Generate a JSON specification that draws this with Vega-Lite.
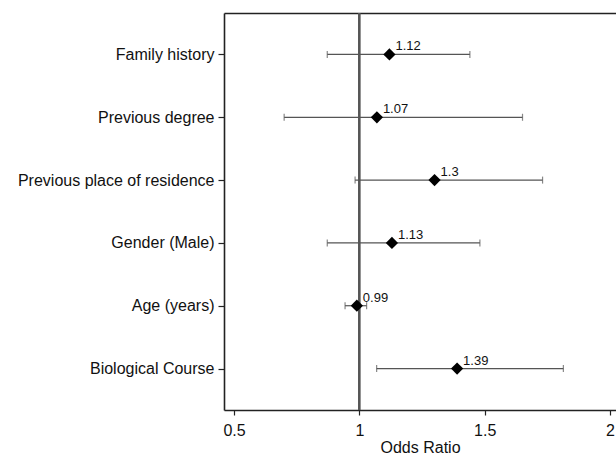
{
  "$schema": "https://vega.github.io/schema/vega-lite/v6.json",
  "width": 392,
  "height": 397,
  "autosize": {"type": "none"},
  "padding": {"left": 224, "top": 13, "right": 0, "bottom": 45},
  "background": "white",
  "data": {
    "values": [
      {"term": "Family history", "or": 1.12, "lo": 0.872, "hi": 1.441, "label": "1.12"},
      {"term": "Previous degree", "or": 1.07, "lo": 0.70, "hi": 1.651, "label": "1.07"},
      {"term": "Previous place of residence", "or": 1.30, "lo": 0.983, "hi": 1.731, "label": "1.3"},
      {"term": "Gender (Male)", "or": 1.13, "lo": 0.872, "hi": 1.481, "label": "1.13"},
      {"term": "Age (years)", "or": 0.99, "lo": 0.943, "hi": 1.029, "label": "0.99"},
      {"term": "Biological Course", "or": 1.39, "lo": 1.069, "hi": 1.814, "label": "1.39"}
    ]
  },
  "layer": [
    {
      "mark": {"type": "rule", "color": "#555555", "strokeWidth": 1.6},
      "encoding": {
        "x": {"datum": 1, "type": "quantitative", "axis": null}
      }
    },
    {
      "mark": {"type": "rule", "color": "#555555", "strokeWidth": 1.2},
      "encoding": {
        "y": {"field": "term", "type": "nominal", "sort": null, "scale": {"type": "point", "padding": 0.66}, "axis": {"title": null}},
        "x": {"field": "lo", "type": "quantitative", "scale": {"domain": [0.46, 2.024], "nice": false, "zero": false},
              "axis": {"values": [0.5, 1, 1.5, 2], "format": "~g", "title": "Odds Ratio", "orient": "bottom"}},
        "x2": {"field": "hi"}
      }
    },
    {
      "mark": {"type": "tick", "color": "#555555", "size": 7, "thickness": 1.2},
      "encoding": {
        "y": {"field": "term", "type": "nominal", "sort": null, "axis": {"title": null}},
        "x": {"field": "lo", "type": "quantitative", "axis": null}
      }
    },
    {
      "mark": {"type": "tick", "color": "#555555", "size": 7, "thickness": 1.2},
      "encoding": {
        "y": {"field": "term", "type": "nominal", "sort": null, "axis": {"title": null}},
        "x": {"field": "hi", "type": "quantitative", "axis": null}
      }
    },
    {
      "mark": {"type": "point", "shape": "diamond", "filled": true, "color": "black", "size": 150, "opacity": 1},
      "encoding": {
        "y": {"field": "term", "type": "nominal", "sort": null, "axis": {"title": null}},
        "x": {"field": "or", "type": "quantitative",
              "axis": {"orient": "top", "labels": false, "ticks": false, "title": null, "domain": true}}
      }
    },
    {
      "mark": {"type": "text", "align": "left", "baseline": "alphabetic", "dx": 6, "dy": -4, "fontSize": 13, "font": "Liberation Sans", "color": "#111111"},
      "encoding": {
        "y": {"field": "term", "type": "nominal", "sort": null, "axis": {"title": null}},
        "x": {"field": "or", "type": "quantitative", "axis": null},
        "text": {"field": "label"}
      }
    }
  ],
  "resolve": {"axis": {"x": "independent"}},
  "config": {
    "view": {"stroke": null},
    "axis": {
      "labelFont": "Liberation Sans",
      "titleFont": "Liberation Sans",
      "labelFontSize": 16,
      "titleFontSize": 16,
      "titleFontWeight": "normal",
      "labelColor": "#111111",
      "titleColor": "#111111",
      "domainColor": "#222222",
      "domainWidth": 1.6,
      "tickColor": "#222222",
      "tickWidth": 1.2,
      "grid": false,
      "labelLimit": 0
    },
    "axisX": {"tickSize": 5, "labelPadding": 7, "titlePadding": 1, "labelFlush": false},
    "axisY": {"tickSize": 6, "labelPadding": 4}
  }
}
